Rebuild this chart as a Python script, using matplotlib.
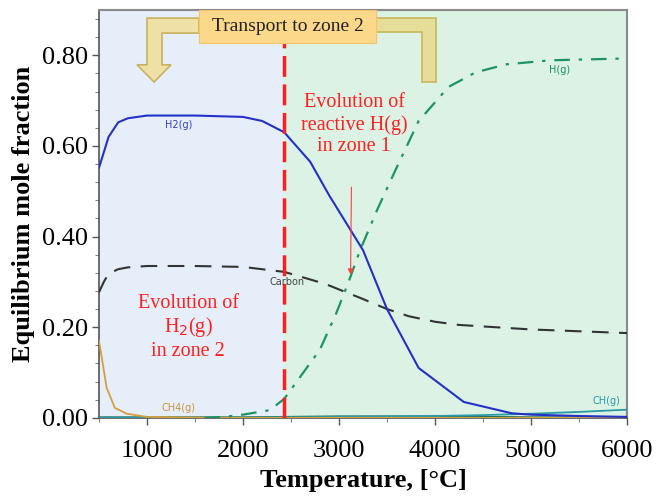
import numpy as np
import matplotlib
matplotlib.use("Agg")
import matplotlib.pyplot as plt
from matplotlib.patches import Polygon, Rectangle
from matplotlib.ticker import AutoMinorLocator

# Equilibrium composition vs temperature
T_h2 = [500, 600, 700, 800, 1000, 1500, 2000, 2200, 2430, 2700, 2900, 3250, 3500, 3830, 4300, 4800, 5000, 5500, 6000]
y_h2 = [0.552, 0.62, 0.652, 0.661, 0.667, 0.667, 0.664, 0.655, 0.63, 0.565, 0.49, 0.37, 0.24, 0.11, 0.035, 0.01, 0.007, 0.004, 0.002]

T_c = [500, 550, 600, 700, 800, 1000, 1500, 2000, 2430, 2850, 3240, 3500, 3730, 4000, 4250, 5000, 6000]
y_c = [0.277, 0.30, 0.318, 0.328, 0.332, 0.335, 0.335, 0.333, 0.322, 0.296, 0.263, 0.240, 0.224, 0.212, 0.205, 0.195, 0.187]

T_h = [1600, 1800, 2000, 2280, 2430, 2800, 2970, 3100, 3220, 3400, 3600, 3830, 4140, 4420, 4740, 5210, 6000]
y_h = [0.0, 0.002, 0.007, 0.017, 0.042, 0.15, 0.23, 0.30, 0.37, 0.46, 0.552, 0.655, 0.73, 0.762, 0.78, 0.789, 0.793]

T_ch4 = [500, 580, 665, 790, 1000, 1500, 2000, 3000, 4000, 5000, 6000]
y_ch4 = [0.17, 0.066, 0.022, 0.009, 0.002, 0.0005, 0.0, 0.0, 0.0, 0.0, 0.0]

T_ch = [500, 2000, 3000, 4000, 4500, 5000, 5500, 6000]
y_ch = [0.0, 0.0005, 0.002, 0.004, 0.006, 0.009, 0.013, 0.018]

T_other = [500, 2000, 2500, 3000, 3500, 4000, 4500, 5000, 6000]
y_other = [0.001, 0.001, 0.002, 0.003, 0.003, 0.003, 0.002, 0.001, 0.001]

x_ticks = [1000, 2000, 3000, 4000, 5000, 6000]
y_ticks = [0.0, 0.2, 0.4, 0.6, 0.8]
y_tick_labels = ["0.00", "0.20", "0.40", "0.60", "0.80"]

T_split = 2430  # boundary between zone 2 (left) and zone 1 (right)

serif = "Liberation Serif"

fig = plt.figure(figsize=(6.57, 4.98), dpi=100)
ax = fig.add_axes([0.1507, 0.161, 0.8036, 0.819])
ax.set_xlim(500, 6000)
ax.set_ylim(0, 0.9)

# zone backgrounds
ax.axvspan(500, T_split, color="#e6eef9", zorder=0)
ax.axvspan(T_split, 6000, color="#dbf2e5", zorder=0)

ax.plot(T_other, y_other, color="#1d6b55", lw=1.5, zorder=3)
ax.plot(T_ch, y_ch, color="#2a9aa8", lw=1.3, zorder=3)
ax.plot(T_ch4, y_ch4, color="#d3a03e", lw=1.3, zorder=3)
ax.plot(T_c, y_c, color="#333333", lw=1.5, dashes=(8, 5), zorder=3)
ax.plot(T_h, y_h, color="#1e9461", lw=1.6, dashes=(7, 4, 1.5, 4), zorder=3)
ax.plot(T_h2, y_h2, color="#2430c8", lw=1.5, zorder=4)

ax.plot([T_split, T_split], [0, 0.83], color="#ff1f1f", lw=2.5, dashes=(6, 2.2), zorder=5)

# curve labels
lab = dict(family="DejaVu Sans", fontsize=7, ha="center", va="center", zorder=6)
ax.text(1330, 0.646, "H2(g)", color="#3640c8", **lab)
ax.text(2460, 0.300, "Carbon", color="#444444", **lab)
ax.text(1330, 0.021, "CH4(g)", color="#c8963a", **lab)
ax.text(5300, 0.768, "H(g)", color="#1e9461", **lab)
ax.text(5790, 0.038, "CH(g)", color="#2a9aa8", **lab)

# zone notes
ax.text(3160, 0.647, "Evolution of\nreactive H(g)\nin zone 1", color="#ff2020",
        family=serif, fontsize=14.5, ha="center", va="center", linespacing=1.2, zorder=6)
ax.text(1430, 0.20, "Evolution of\nH$_2$(g)\nin zone 2", color="#ff2020",
        family=serif, fontsize=14.5, ha="center", va="center", linespacing=1.15, zorder=6)
ax.annotate("", xy=(3120, 0.31), xytext=(3130, 0.515),
            arrowprops=dict(arrowstyle="-|>", color="#ff4040", lw=0.8, mutation_scale=8), zorder=6)

# transport arrow (left: down arrow, right: bent bar)
left_arrow = [(1000, 0.882), (1542, 0.882), (1542, 0.849), (1156, 0.849), (1156, 0.779),
              (1250, 0.779), (1073, 0.741), (896, 0.779), (1000, 0.779)]
ax.add_patch(Polygon(left_arrow, closed=True, fc="#efe1a6", ec="#c9b15f", lw=1.2, zorder=6))
right_bar = [(3385, 0.882), (4010, 0.882), (4010, 0.741), (3865, 0.741), (3865, 0.852), (3385, 0.852)]
ax.add_patch(Polygon(right_bar, closed=True, fc="#e6dd98", ec="#c9b85c", lw=1.2, zorder=6))
ax.add_patch(Rectangle((1542, 0.827), 1843, 0.073, fc="#fcd98a", ec="#f5c46a", lw=0.8, zorder=7))
ax.text(2463, 0.864, "Transport to zone 2", family=serif, fontsize=14, color="#222222",
        ha="center", va="center", zorder=8)

# axes styling
ax.set_xticks(x_ticks)
ax.set_yticks(y_ticks)
ax.set_yticklabels(y_tick_labels)
ax.xaxis.set_minor_locator(AutoMinorLocator(2))
ax.yaxis.set_minor_locator(AutoMinorLocator(5))
ax.tick_params(which="major", direction="out", length=5, width=1, color="#555555", labelsize=19)
ax.tick_params(axis="x", which="major", pad=11)
ax.tick_params(axis="y", which="major", pad=3)
ax.tick_params(which="minor", direction="out", length=3, width=0.8, color="#888888")
for t in ax.get_xticklabels() + ax.get_yticklabels():
    t.set_family(serif)

for side in ["left", "bottom"]:
    ax.spines[side].set_color("#555555")
    ax.spines[side].set_linewidth(1.2)
for side in ["top", "right"]:
    ax.spines[side].set_color("#8a8a8a")
    ax.spines[side].set_linewidth(1.5)

ax.set_xlabel("Temperature, [°C]", family=serif, fontsize=19, fontweight="bold", labelpad=5)
ax.set_ylabel("Equilibrium mole fraction", family=serif, fontsize=19, fontweight="bold", labelpad=5)

fig.savefig("out.png", dpi=100)
